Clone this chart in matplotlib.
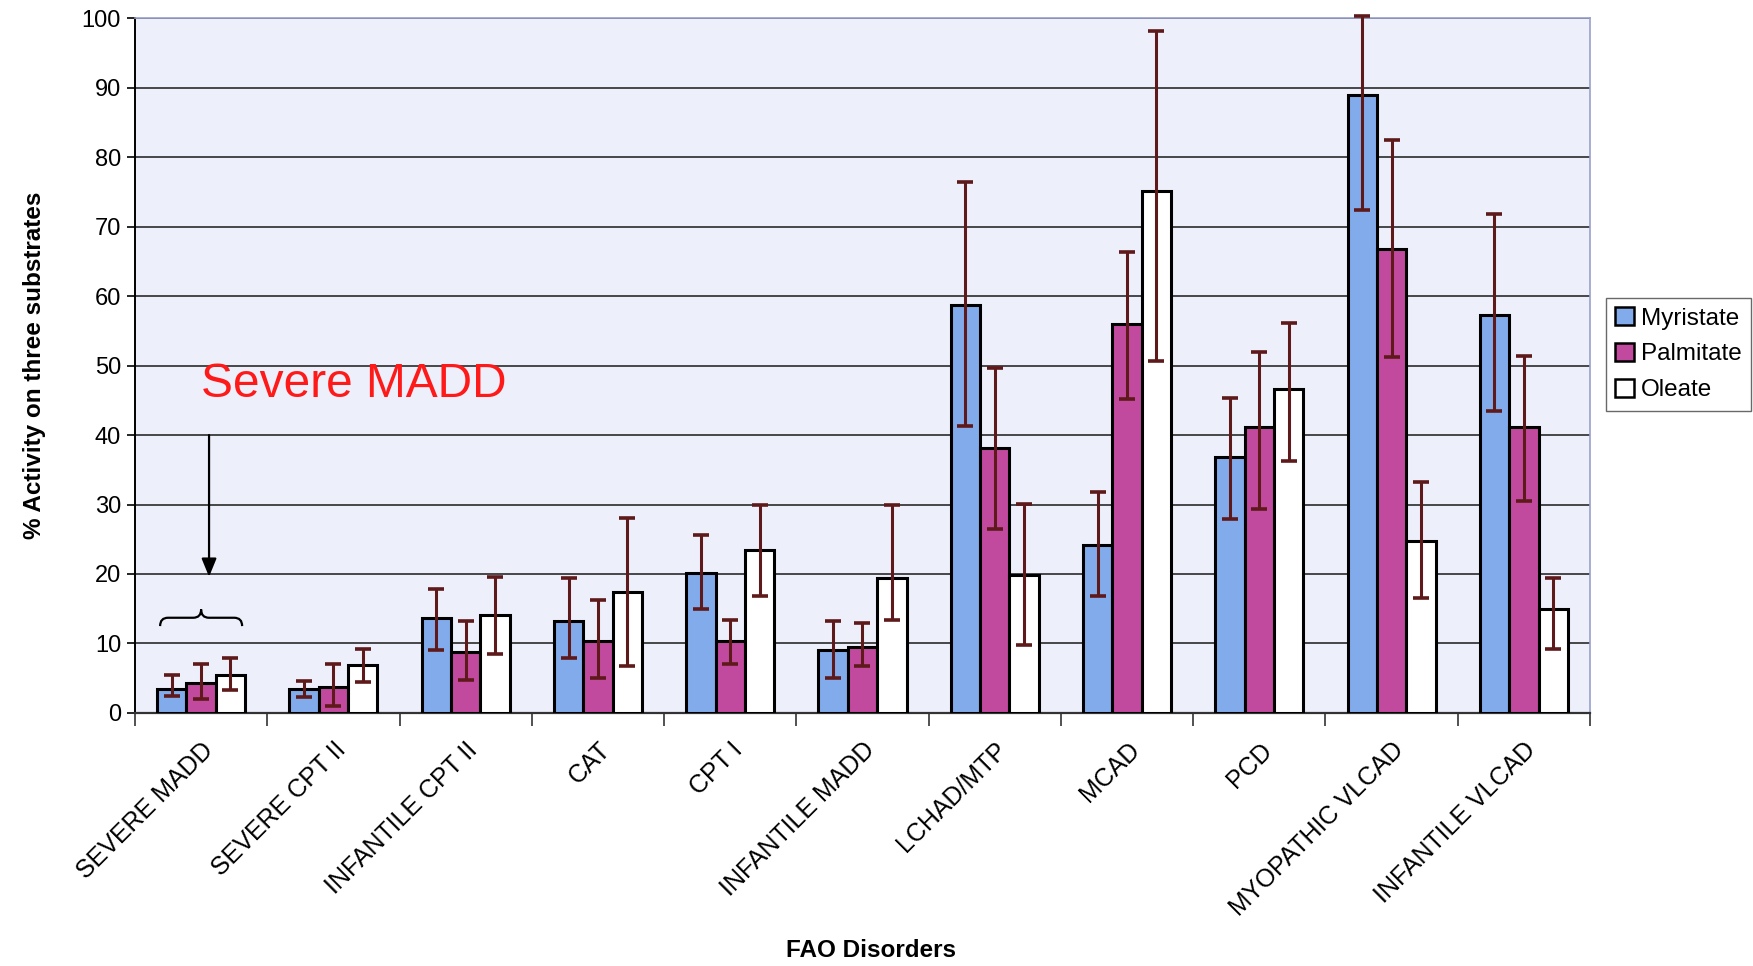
#!/usr/bin/env python3
"""Atividade de oxidacao de acidos graxos (%) em tres substratos por disturbio FAO."""

import matplotlib
matplotlib.use("Agg")
import matplotlib.pyplot as plt
import numpy as np
from matplotlib.path import Path
from matplotlib.patches import PathPatch

plt.rcParams["font.family"] = ["Liberation Sans", "DejaVu Sans"]

DISTURBIOS = [
    "SEVERE MADD", "SEVERE CPT II", "INFANTILE CPT II", "CAT", "CPT I",
    "INFANTILE MADD", "LCHAD/MTP", "MCAD", "PCD", "MYOPATHIC VLCAD",
    "INFANTILE VLCAD",
]

# media e limites inferior / superior da barra de erro
MIRISTATO = [3.5, 3.4, 13.6, 13.2, 20.2, 9.0, 58.8, 24.2, 36.8, 89.0, 57.3]
MIRISTATO_INF = [2.4, 2.3, 9.0, 7.9, 14.9, 5.0, 41.3, 16.8, 27.9, 72.4, 43.5]
MIRISTATO_SUP = [5.4, 4.6, 17.9, 19.4, 25.6, 13.3, 76.5, 31.8, 45.3, 100.3, 71.8]

PALMITATO = [4.3, 3.8, 8.8, 10.3, 10.4, 9.5, 38.2, 56.0, 41.2, 66.8, 41.2]
PALMITATO_INF = [2.0, 1.0, 4.8, 5.0, 7.1, 6.8, 26.5, 45.2, 29.4, 51.2, 30.5]
PALMITATO_SUP = [7.0, 7.1, 13.3, 16.3, 13.4, 12.9, 49.7, 66.3, 52.0, 82.5, 51.4]

OLEATO = [5.5, 6.9, 14.1, 17.4, 23.5, 19.4, 19.8, 75.2, 46.6, 24.8, 14.9]
OLEATO_INF = [3.3, 4.5, 8.5, 6.7, 16.9, 13.4, 9.8, 50.6, 36.2, 16.6, 9.2]
OLEATO_SUP = [7.9, 9.2, 19.5, 28.1, 29.9, 29.9, 30.1, 98.2, 56.1, 33.3, 19.4]

SERIES = [
    ("Myristate", MIRISTATO, MIRISTATO_INF, MIRISTATO_SUP, "#82abec"),
    ("Palmitate", PALMITATO, PALMITATO_INF, PALMITATO_SUP, "#c24a9e"),
    ("Oleate", OLEATO, OLEATO_INF, OLEATO_SUP, "#ffffff"),
]

LARGURA = 0.222


def desenhar_chave(ax, xc, meia, y_ponta, y_meio, y_fim, raio=0.06):
    esq, dir_ = xc - meia, xc + meia
    verts = [
        (esq, y_fim), (esq, y_meio), (esq + raio, y_meio),
        (xc - raio, y_meio), (xc, y_meio), (xc, y_ponta),
        (xc, y_meio), (xc + raio, y_meio),
        (dir_ - raio, y_meio), (dir_, y_meio), (dir_, y_fim),
    ]
    codes = [
        Path.MOVETO, Path.CURVE3, Path.CURVE3,
        Path.LINETO, Path.CURVE3, Path.CURVE3,
        Path.CURVE3, Path.CURVE3,
        Path.LINETO, Path.CURVE3, Path.CURVE3,
    ]
    ax.add_patch(PathPatch(Path(verts, codes), fill=False, lw=1.6,
                           edgecolor="black", zorder=5))


def main():
    fig = plt.figure(figsize=(17.53, 9.66), dpi=100)
    ax = fig.add_axes([0.077, 0.262, 0.830, 0.719])
    ax.set_facecolor("#edf0fa")

    x = np.arange(len(DISTURBIOS))
    for i, (nome, med, inf, sup, cor) in enumerate(SERIES):
        med = np.array(med)
        erro = [med - np.array(inf), np.array(sup) - med]
        pos = x + (i - 1) * LARGURA
        ax.bar(pos, med, width=LARGURA, color=cor, edgecolor="black",
               linewidth=2.2, label=nome, zorder=3)
        ax.errorbar(pos, med, yerr=erro, fmt="none", ecolor="#5e1a1a",
                    elinewidth=2.2, capsize=6, capthick=2.6, zorder=4,
                    clip_on=False)

    ax.set_xlim(-0.5, len(DISTURBIOS) - 0.5)
    ax.set_ylim(0, 100)
    ax.set_yticks(np.arange(0, 101, 10))
    ax.yaxis.grid(True, color="#2b2b2b", linewidth=1.2, zorder=1)
    ax.set_axisbelow(True)

    ax.set_xticks(x)
    ax.set_xticklabels(DISTURBIOS, rotation=45, ha="right",
                       rotation_mode="anchor", fontsize=18)
    ax.set_xticks(np.arange(-0.5, len(DISTURBIOS)), minor=True)
    ax.tick_params(axis="x", which="major", length=0, pad=18)
    ax.tick_params(axis="x", which="minor", length=9, width=1.2, color="#333333")
    ax.tick_params(axis="y", labelsize=17, length=6, width=1.2, pad=4)

    for lado in ("top", "right"):
        ax.spines[lado].set_color("#9aa0cc")
        ax.spines[lado].set_linewidth(1.2)
    ax.spines["left"].set_color("black")
    ax.spines["left"].set_linewidth(1.4)
    ax.spines["bottom"].set_color("#333333")
    ax.spines["bottom"].set_linewidth(1.6)

    ax.set_ylabel("% Activity on three substrates", fontsize=17.5,
                  fontweight="bold", labelpad=26)
    fig.text(0.497, 0.004, "FAO Disorders", fontsize=17.5, fontweight="bold",
             ha="center", va="bottom")

    # destaque do MADD grave
    ax.text(0.0, 45.5, "Severe MADD", color="#ff1a1a", fontsize=34.5,
            ha="left", va="baseline", zorder=6)
    ax.annotate("", xy=(0.06, 19.6), xytext=(0.06, 40.0),
                arrowprops=dict(arrowstyle="-|>,head_length=1.1,head_width=0.45",
                                color="black", lw=1.6, shrinkA=0, shrinkB=0),
                zorder=6)
    desenhar_chave(ax, 0.0, 0.31, 14.9, 13.7, 12.5)

    leg = fig.legend(loc="upper left", bbox_to_anchor=(0.916, 0.692),
                     fontsize=17.5, frameon=True, fancybox=False,
                     handlelength=0.75, handleheight=0.75, handletextpad=0.3,
                     labelspacing=0.55, borderpad=0.4, borderaxespad=0)
    leg.get_frame().set_edgecolor("#444444")
    leg.get_frame().set_linewidth(1.0)
    for h in leg.legend_handles:
        h.set_linewidth(1.8)

    fig.savefig("out.png", dpi=100)
    plt.close(fig)


if __name__ == "__main__":
    main()
